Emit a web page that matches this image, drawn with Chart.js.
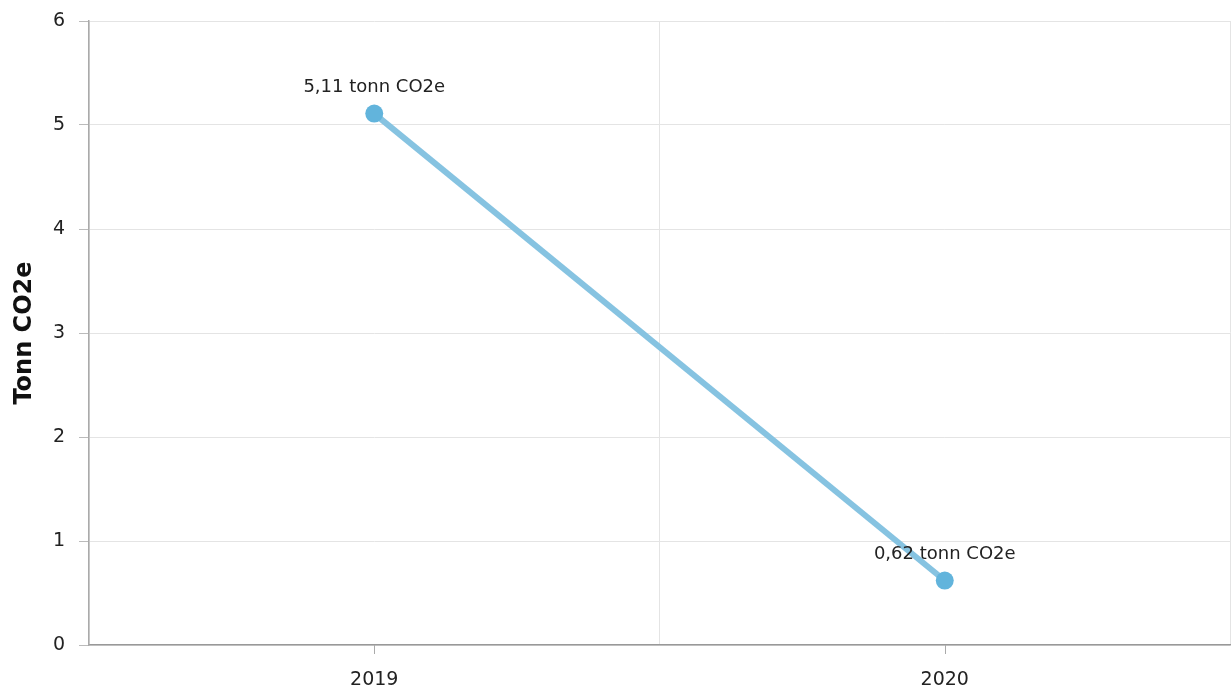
<!DOCTYPE html>
<html>
<head>
<meta charset="utf-8">
<script src="https://cdn.jsdelivr.net/npm/chart.js@4/dist/chart.umd.min.js"></script>
<style>
  html, body { margin: 0; padding: 0; background: #fff; }
  #wrap { width: 1232px; height: 693px; }
</style>
</head>
<body>
<div id="wrap"><canvas id="myChart"></canvas></div>
<script>
const years = ["2019", "2020"];
const emissions = [5.11, 0.62];
const pointLabels = ["5,11 tonn CO2e", "0,62 tonn CO2e"];
const yTicks = [0, 1, 2, 3, 4, 5, 6];

const font = "'DejaVu Sans', Verdana, sans-serif";

// value labels above the points + tick marks at category centres
const extras = {
  id: "extras",
  afterDatasetsDraw(chart) {
    const ctx = chart.ctx;
    const meta = chart.getDatasetMeta(0);
    ctx.save();
    ctx.font = "18px " + font;
    ctx.fillStyle = "#222";
    ctx.textAlign = "center";
    ctx.textBaseline = "middle";
    meta.data.forEach((pt, i) => {
      ctx.fillText(pointLabels[i], pt.x, pt.y - 26);
    });
    const x = chart.scales.x;
    ctx.strokeStyle = "#aaa";
    ctx.lineWidth = 1;
    years.forEach((y, i) => {
      const px = Math.round(x.getPixelForValue(i)) + 0.5;
      ctx.beginPath();
      ctx.moveTo(px, x.top);
      ctx.lineTo(px, x.top + 9);
      ctx.stroke();
    });
    ctx.restore();
  }
};

const ctx = document.getElementById("myChart");

new Chart(ctx, {
  type: "line",
  data: {
    labels: years,
    datasets: [{
      data: emissions,
      borderColor: "#86c3e1",
      borderWidth: 6,
      backgroundColor: "#62b4dc",
      pointBackgroundColor: "#62b4dc",
      pointBorderWidth: 0,
      pointRadius: 9,
      tension: 0
    }]
  },
  options: {
    responsive: true,
    maintainAspectRatio: false,
    animation: false,
    layout: {autoPadding: false, padding: {top: 21, right: 2, left: 0, bottom: 0}},
    plugins: {
      legend: {display: false},
      tooltip: {enabled: false}
    },
    scales: {
      x: {
        offset: true,
        grid: {offset: true, color: "#e4e4e4", drawTicks: false},
        border: {color: "#999", width: 1.5},
        ticks: {padding: 24, color: "#222", font: {family: font, size: 19}},
        afterFit(s) { s.height = 48; s.paddingLeft = 0; s.paddingRight = 0; }
      },
      y: {
        min: 0,
        max: 6,
        afterBuildTicks(s) { s.ticks = yTicks.map(v => ({value: v})); },
        grid: {color: "#e4e4e4", tickLength: 10, tickColor: "#bbb"},
        border: {color: "#aaa", width: 1.5},
        ticks: {padding: 14, color: "#222", font: {family: font, size: 19}},
        title: {display: true, text: "Tonn CO2e", color: "#111", padding: {top: 10, bottom: 0},
          font: {family: font, size: 24, weight: "bold"}},
        afterFit(s) { s.width = 89; s.paddingTop = 0; s.paddingBottom = 0; }
      }
    }
  },
  plugins: [extras]
});
</script>
</body>
</html>
